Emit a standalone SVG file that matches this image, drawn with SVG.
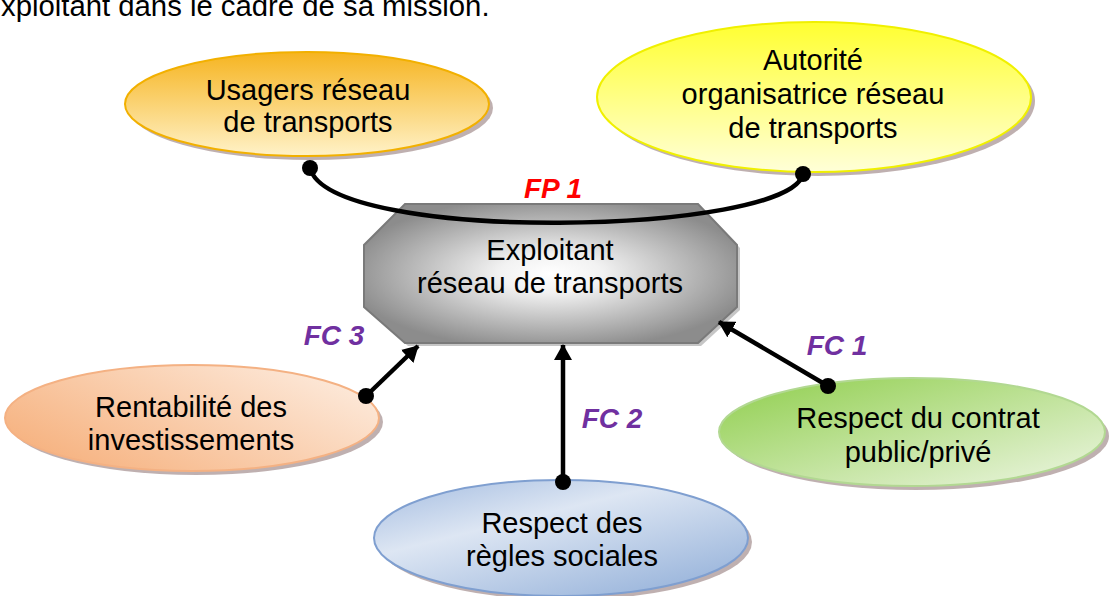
<svg xmlns="http://www.w3.org/2000/svg" width="1110" height="596" viewBox="0 0 1110 596">
<style>
text{font-family:"Liberation Sans",Arial,sans-serif;font-size:29px;fill:#000;text-anchor:middle}
.top{text-anchor:start;font-size:29.3px}
.fp{fill:#ff0000;font-weight:bold;font-style:italic;font-size:28px}
.fc{fill:#7030a0;font-weight:bold;font-style:italic;font-size:28px}
.shadow{fill:#8a7070;opacity:0.55}
.conn{stroke:#000;stroke-width:4.5;fill:none}
</style>
<defs>
<linearGradient id="gOrange" x1="0" y1="0" x2="0" y2="1">
<stop offset="0" stop-color="#f6b420"/>
<stop offset="1" stop-color="#fff2c8"/>
</linearGradient>
<linearGradient id="gYellow" x1="0" y1="0" x2="0" y2="1">
<stop offset="0" stop-color="#ffff30"/>
<stop offset="1" stop-color="#ffffd8"/>
</linearGradient>
<linearGradient id="gPeach" x1="0" y1="0.8" x2="1" y2="0.2">
<stop offset="0" stop-color="#f6b07c"/>
<stop offset="1" stop-color="#fdebdd"/>
</linearGradient>
<linearGradient id="gBlue" x1="0.1" y1="0" x2="0.9" y2="1">
<stop offset="0" stop-color="#a9c0e2"/>
<stop offset="0.35" stop-color="#dde6f3"/>
<stop offset="1" stop-color="#93b0d9"/>
</linearGradient>
<linearGradient id="gGreen" x1="0" y1="0" x2="1" y2="1">
<stop offset="0" stop-color="#8fce4c"/>
<stop offset="1" stop-color="#eef6e4"/>
</linearGradient>
<radialGradient id="gGray" cx="0.5" cy="0.5" r="0.55">
<stop offset="0" stop-color="#ffffff"/>
<stop offset="0.25" stop-color="#f2f2f2"/>
<stop offset="1" stop-color="#8c8c8c"/>
</radialGradient>
<marker id="arrow" viewBox="0 0 16 18" refX="15" refY="9" markerWidth="16" markerHeight="18" markerUnits="userSpaceOnUse" orient="auto">
<path d="M0,0 L16,9 L0,18 z" fill="#000"/>
</marker>
</defs>

<text class="top" x="1" y="16">xploitant dans le cadre de sa mission.</text>

<g id="usagers">
<ellipse class="shadow" cx="311" cy="108" rx="182" ry="52"/>
<ellipse cx="307" cy="104" rx="182" ry="52" fill="url(#gOrange)" stroke="#f2b000" stroke-width="2"/>
<text x="308" y="100">Usagers réseau</text>
<text x="308" y="132">de transports</text>
</g>

<g id="autorite">
<ellipse class="shadow" cx="818" cy="101" rx="217" ry="75"/>
<ellipse cx="814" cy="97" rx="217" ry="75" fill="url(#gYellow)" stroke="#f0f000" stroke-width="2"/>
<text x="813" y="70">Autorité</text>
<text x="813" y="104">organisatrice réseau</text>
<text x="813" y="138">de transports</text>
</g>

<g id="rentabilite">
<ellipse class="shadow" cx="196" cy="422" rx="187" ry="53"/>
<ellipse cx="192" cy="418" rx="187" ry="53" fill="url(#gPeach)" stroke="#f4b183" stroke-width="2"/>
<text x="191" y="417">Rentabilité des</text>
<text x="191" y="450">investissements</text>
</g>

<g id="regles">
<ellipse class="shadow" cx="565" cy="542" rx="187" ry="58"/>
<ellipse cx="561" cy="538" rx="187" ry="58" fill="url(#gBlue)" stroke="#7f9fd0" stroke-width="2"/>
<text x="562" y="533">Respect des</text>
<text x="562" y="566">règles sociales</text>
</g>

<g id="contrat">
<ellipse class="shadow" cx="916" cy="436" rx="193" ry="54"/>
<ellipse cx="912" cy="432" rx="193" ry="54" fill="url(#gGreen)" stroke="#b2d892" stroke-width="2"/>
<text x="918" y="428">Respect du contrat</text>
<text x="918" y="462">public/privé</text>
</g>

<g id="exploitant">
<polygon points="408,207 701,207 740,248 740,310 701,346 408,346 367,310 367,248" fill="#a0a0a0" opacity="0.6"/>
<polygon points="405,204 698,204 737,245 737,307 698,343 405,343 364,307 364,245" fill="url(#gGray)" stroke="#7a7a7a" stroke-width="2"/>
<text x="550" y="260">Exploitant</text>
<text x="550" y="293">réseau de transports</text>
</g>

<g id="connectors">
<path class="conn" d="M310,168 C 330,245 790,235 803,174"/>
<circle cx="310" cy="168" r="8"/>
<circle cx="803" cy="174" r="8"/>
<text class="fp" x="553" y="198">FP 1</text>

<line class="conn" x1="828" y1="386" x2="719" y2="322" marker-end="url(#arrow)"/>
<circle cx="828" cy="386" r="8"/>
<text class="fc" x="837" y="355">FC 1</text>

<line class="conn" x1="563" y1="482" x2="563" y2="345" marker-end="url(#arrow)"/>
<circle cx="563" cy="482" r="8"/>
<text class="fc" x="612" y="428">FC 2</text>

<line class="conn" x1="366" y1="396" x2="418" y2="346" marker-end="url(#arrow)"/>
<circle cx="366" cy="396" r="8"/>
<text class="fc" x="334" y="345">FC 3</text>
</g>
</svg>
